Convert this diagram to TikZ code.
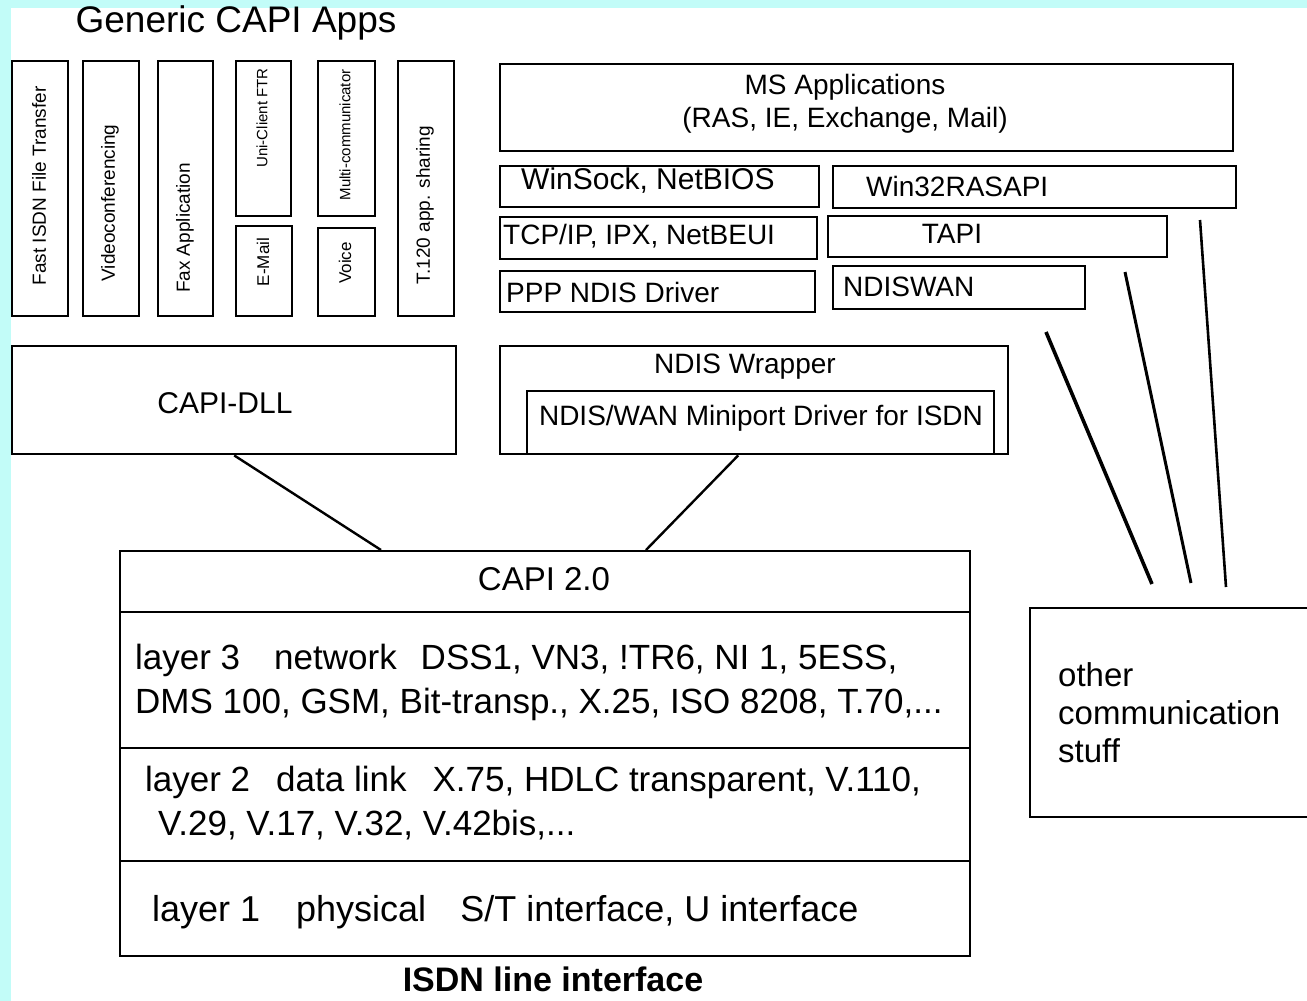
\documentclass[tikz,border=0pt]{standalone}
\usepackage{fontspec}
\setmainfont{Liberation Sans}
\usetikzlibrary{positioning}
\definecolor{pagecyan}{RGB}{194,252,248}
\begin{document}
\begin{tikzpicture}[x=1pt,y=-1pt,
		box/.style={draw, line width=2.4pt, anchor=north west, inner sep=0pt},
		link/.style={line width=2.4pt},
		vtext/.style={rotate=90, inner sep=0pt},
		lbl/.style={inner sep=0pt},
		lblfont/.style={font=\fontsize{28}{33}\selectfont},
		layerfont/.style={font=\fontsize{35}{44}\selectfont}]
			\newcommand{\myfontlabel}[1]{
				\fontsize{28}{33}\selectfont{#1}
			}\newcommand{\myfontvert}[1]{
				\fontsize{19}{22}\selectfont{#1}
			}%Page
			\fill[pagecyan] (0,0) rectangle (1307,1001);
			\fill[white] (11,8) rectangle (1307,1001);
			\useasboundingbox (0,0) rectangle (1307,1001);
			%Title of the left column
			\node [lbl] (genTitle) at (236,23) {\fontsize{37}{42}\selectfont Generic CAPI Apps};
			%Generic CAPI applications
			\node [box, minimum width=56pt, minimum height=255pt] (app1) at (11,60) {};
			\node [box, minimum width=56pt, minimum height=255pt] (app2) at (82,60) {};
			\node [box, minimum width=55pt, minimum height=255pt, line width=1.6pt] (app3) at (157,60) {};
			\node [box, minimum width=55pt, minimum height=155pt] (app4Upper) at (235,60) {};
			\node [box, minimum width=56pt, minimum height=90pt] (app4Lower) at (235,225) {};
			\node [box, minimum width=57pt, minimum height=155pt] (app5Upper) at (317,60) {};
			\node [box, minimum width=57pt, minimum height=88pt] (app5Lower) at (317,227) {};
			\node [box, minimum width=56pt, minimum height=255pt] (app6) at (397,60) {};
			\node [vtext] (app1Text) at (39,186) {\myfontvert{Fast ISDN File Transfer}};
			\node [vtext] (app2Text) at (110,203) {\myfontvert{Videoconferencing}};
			\node [vtext] (app3Text) at (185,228) {\myfontvert{Fax Application}};
			\node [vtext] (app4UpperText) at (262,118) {\fontsize{15}{18}\selectfont Uni-Client FTR};
			\node [vtext] (app4LowerText) at (263,262) {\fontsize{17}{20}\selectfont E-Mail};
			\node [vtext] (app5UpperText) at (345,135) {\fontsize{15}{18}\selectfont Multi-communicator};
			\node [vtext] (app5LowerText) at (345,263) {\fontsize{17}{20}\selectfont Voice};
			\node [vtext] (app6Text) at (425,205) {\myfontvert{T.120 app. sharing}};
			%CAPI-DLL
			\node [box, minimum width=444pt, minimum height=108pt] (capiDll) at (11,345) {};
			\node [lbl] (capiDllText) at (225,403) {\fontsize{30}{36}\selectfont CAPI-DLL};
			%Microsoft stack
			\node [box, minimum width=733pt, minimum height=87pt] (msApp) at (499,63) {};
			\node [lbl, lblfont, align=center] (msAppText) at (845,104) {MS Applications\\(RAS, IE, Exchange, Mail)};
			\node [box, minimum width=319pt, minimum height=41pt] (winSock) at (499,165) {};
			\node [lbl, anchor=west] (winSockText) at (521,181) {\fontsize{30}{34}\selectfont WinSock, NetBIOS};
			\node [box, minimum width=403pt, minimum height=42pt] (rasApi) at (832,165) {};
			\node [lbl, anchor=west] (rasApiText) at (866,186) {\myfontlabel{Win32RASAPI}};
			\node [box, minimum width=317pt, minimum height=42pt] (tcpIp) at (499,216) {};
			\node [lbl, anchor=west] (tcpIpText) at (503,236) {\myfontlabel{TCP/IP, IPX, NetBEUI}};
			\node [box, minimum width=339pt, minimum height=41pt] (tapi) at (827,215) {};
			\node [lbl] (tapiText) at (952,234) {\myfontlabel{TAPI}};
			\node [box, minimum width=315pt, minimum height=41pt] (pppDriver) at (499,270) {};
			\node [lbl, anchor=west] (pppDriverText) at (506,292) {\myfontlabel{PPP NDIS Driver}};
			\node [box, minimum width=252pt, minimum height=43pt] (ndisWan) at (832,265) {};
			\node [lbl, anchor=west] (ndisWanText) at (843,287) {\myfontlabel{NDISWAN}};
			%NDIS Wrapper with the miniport inside
			\node [box, minimum width=508pt, minimum height=108pt] (wrapper) at (499,345) {};
			\node [lbl] (wrapperText) at (745,367) {\myfontlabel{NDIS Wrapper}};
			\node [box, minimum width=467pt, minimum height=63pt] (miniport) at (526,390) {};
			\node [lbl] (miniportText) at (761,418) {\myfontlabel{NDIS/WAN Miniport Driver for ISDN}};
			%CAPI 2.0 and the layers
			\node [box, minimum width=850pt, minimum height=61pt, line width=2pt] (capiHead) at (119,550) {};
			\node [box, minimum width=850pt, minimum height=136pt, line width=2pt] (layer3) at (119,611) {};
			\node [box, minimum width=850pt, minimum height=113pt, line width=2pt] (layer2) at (119,747) {};
			\node [box, minimum width=850pt, minimum height=95pt, line width=2pt] (layer1) at (119,860) {};
			\node [lbl] (capiHeadText) at (544,579) {\fontsize{33}{38}\selectfont CAPI 2.0};
			\node [lbl, layerfont, anchor=west, align=left] (layer3Text) at (135,682) {layer 3\hspace{34pt}network\hspace{24pt}DSS1, VN3, !TR6, NI 1, 5ESS,\\DMS 100, GSM, Bit-transp., X.25, ISO 8208, T.70,...};
			\node [lbl, layerfont, anchor=west, align=left] (layer2Text) at (145,803) {layer 2\hspace{26pt}data link\hspace{26pt}X.75, HDLC transparent, V.110,\\\hspace*{13pt}V.29, V.17, V.32, V.42bis,...};
			\node [lbl, anchor=west, font=\fontsize{36}{44}\selectfont] (layer1Text) at (152,912) {layer 1\hspace{36pt}physical\hspace{34pt}S/T interface, U interface};
			\node [lbl] (isdnText) at (553,979) {\fontsize{34}{40}\selectfont\bfseries ISDN line interface};
			%Other communication stuff
			\node [box, minimum width=290pt, minimum height=209pt, line width=2pt] (other) at (1029,607) {};
			\node [lbl, anchor=west, align=left, font=\fontsize{33}{38}\selectfont] (otherText) at (1058,713) {other\\communication\\stuff};
			%Links down to CAPI 2.0
			\draw [link] (capiDll.south) -- ([xshift=-164pt]capiHead.north);
			\draw [link] ([xshift=-16pt]wrapper.south) -- ([xshift=101pt]capiHead.north);
			%Links down to the other stuff
			\coordinate (r1Upper) at (1046,332);
			\coordinate (r1Lower) at (1152,584);
			\coordinate (r2Upper) at (1125,272);
			\coordinate (r2Lower) at (1191,583);
			\coordinate (r3Upper) at (1200,220);
			\coordinate (r3Lower) at (1226,587);
			\draw [link, line width=3.6pt] (r1Upper) -- (r1Lower);
			\draw [link, line width=3pt] (r2Upper) -- (r2Lower);
			\draw [link, line width=2.6pt] (r3Upper) -- (r3Lower);
\end{tikzpicture}
\end{document}
